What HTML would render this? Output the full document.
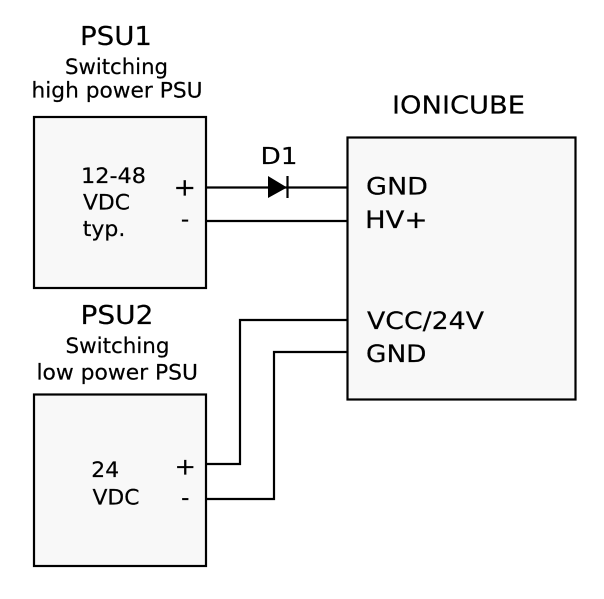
<!DOCTYPE html>
<html><head><meta charset="utf-8"><style>
html,body{margin:0;padding:0;background:#fff;}
svg{display:block;}
text{font-family:"DejaVu Sans","Liberation Sans",sans-serif;fill:#000;stroke:#000;stroke-width:0.2;}
</style></head><body>
<svg width="604" height="599" viewBox="0 0 604 599" xmlns="http://www.w3.org/2000/svg">
<rect x="0" y="0" width="604" height="599" fill="#fff"/>
<g fill="#f8f8f8" stroke="#000" stroke-width="2.2">
<rect x="34" y="117" width="172" height="171"/>
<rect x="34" y="394.5" width="172" height="171.5"/>
<rect x="347.5" y="137.5" width="228" height="262"/>
</g>
<g fill="none" stroke="#000" stroke-width="2.2">
<path d="M206 187.5 H347"/>
<path d="M206 221 H347"/>
<path d="M206 464 H240 V320 H347"/>
<path d="M206 499 H274 V352 H347"/>
<path d="M287.5 176 V198"/>
</g>
<polygon points="268,176 268,198 287,187.5" fill="#000"/>

<text x="80" y="45" font-size="25.5" textLength="72" lengthAdjust="spacingAndGlyphs">PSU1</text>
<text x="65" y="74" font-size="21" textLength="103" lengthAdjust="spacingAndGlyphs">Switching</text>
<text x="31.5" y="97.5" font-size="21" textLength="171" lengthAdjust="spacingAndGlyphs">high power PSU</text>

<text x="81" y="183" font-size="21.5" textLength="65" lengthAdjust="spacingAndGlyphs">12-48</text>
<text x="83" y="209.5" font-size="21.5" textLength="47" lengthAdjust="spacingAndGlyphs">VDC</text>
<text x="82.8" y="236" font-size="21.5" textLength="42.5" lengthAdjust="spacingAndGlyphs">typ.</text>
<text x="173.5" y="195.5" font-size="24" textLength="22.5" lengthAdjust="spacingAndGlyphs">+</text>
<text x="185" y="227" font-size="23" text-anchor="middle">-</text>

<text x="260.5" y="164" font-size="23.5" textLength="37" lengthAdjust="spacingAndGlyphs">D1</text>

<text x="392" y="113.5" font-size="24.5" textLength="133" lengthAdjust="spacingAndGlyphs">IONICUBE</text>
<text x="366" y="194.5" font-size="24" textLength="62" lengthAdjust="spacingAndGlyphs">GND</text>
<text x="365" y="228" font-size="24" textLength="62.5" lengthAdjust="spacingAndGlyphs">HV+</text>
<text x="367" y="329" font-size="24" textLength="117" lengthAdjust="spacingAndGlyphs">VCC/24V</text>
<text x="366" y="362" font-size="24" textLength="60.5" lengthAdjust="spacingAndGlyphs">GND</text>

<text x="80.5" y="324" font-size="26" textLength="73" lengthAdjust="spacingAndGlyphs">PSU2</text>
<text x="65.5" y="353" font-size="21" textLength="104" lengthAdjust="spacingAndGlyphs">Switching</text>
<text x="36.5" y="379.5" font-size="21" textLength="161.5" lengthAdjust="spacingAndGlyphs">low power PSU</text>

<text x="91.3" y="477" font-size="21.5" textLength="27.8" lengthAdjust="spacingAndGlyphs">24</text>
<text x="92.5" y="504.5" font-size="21.5" textLength="47" lengthAdjust="spacingAndGlyphs">VDC</text>
<text x="174.5" y="474.5" font-size="23" textLength="21.5" lengthAdjust="spacingAndGlyphs">+</text>
<text x="185.3" y="505.5" font-size="23" text-anchor="middle">-</text>
</svg>
</body></html>
